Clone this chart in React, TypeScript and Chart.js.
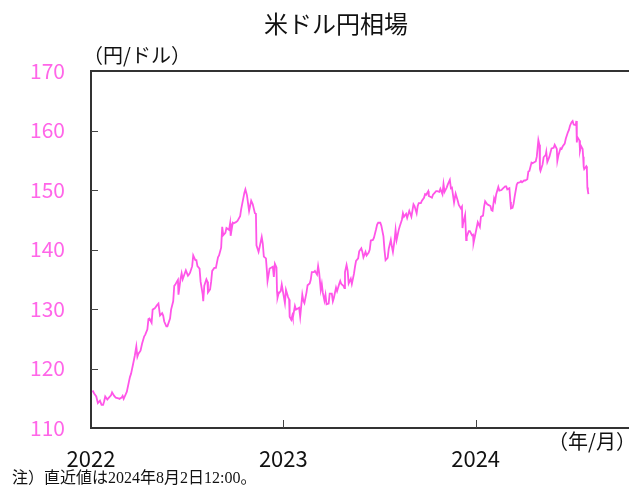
import React, { useEffect, useRef } from "react";
import { Chart, registerables } from "chart.js";

Chart.register(...registerables);

// ---- Text ----
const TITLE = "米ドル円相場";
const Y_UNIT = "（円/ドル）";
const X_UNIT = "（年/月）";
const NOTE = "注）直近値は2024年8月2日12:00。";

// ---- Axis ticks ----
const yTickValues = [110, 120, 130, 140, 150, 160, 170];
const xTickDates = ["2022-01-01", "2023-01-01", "2024-01-01"];
const xTickLabels = ["2022", "2023", "2024"];
const X_START = "2022-01-01";
const X_END = "2024-10-18";

// ---- USD/JPY (yen per dollar) ----
const dates2022 = [
  "01-04", "01-07", "01-11", "01-14", "01-18", "01-21", "01-24", "01-26", "01-28", "02-01",
  "02-04", "02-08", "02-10", "02-14", "02-17", "02-22", "02-24", "02-28", "03-02", "03-04",
  "03-08", "03-10", "03-14", "03-16", "03-18", "03-22", "03-25", "03-28", "03-30", "04-01",
  "04-05", "04-08", "04-12", "04-14", "04-18", "04-20", "04-22", "04-26", "04-28", "05-02",
  "05-06", "05-09", "05-12", "05-16", "05-18", "05-20", "05-24", "05-26", "05-31", "06-02",
  "06-06", "06-08", "06-10", "06-13", "06-15", "06-16", "06-20", "06-22", "06-24", "06-28",
  "06-30", "07-04", "07-06", "07-08", "07-12", "07-14", "07-18", "07-20", "07-22", "07-26",
  "07-28", "08-01", "08-02", "08-04", "08-08", "08-10", "08-11", "08-15", "08-17", "08-19",
  "08-23", "08-26", "08-30", "09-01", "09-05", "09-07", "09-09", "09-13", "09-15", "09-20",
  "09-22", "09-23", "09-27", "09-29", "10-03", "10-06", "10-11", "10-13", "10-17", "10-19",
  "10-21", "10-24", "10-26", "10-28", "11-01", "11-04", "11-08", "11-10", "11-11", "11-15",
  "11-17", "11-21", "11-23", "11-25", "11-29", "12-01", "12-02", "12-06", "12-08", "12-12",
  "12-14", "12-16", "12-19", "12-20", "12-21", "12-23", "12-27", "12-29",
];
const usdjpy2022 = [
  116.3, 115.8, 115.3, 114.2, 114.6, 113.9, 113.9, 114.5, 115.3, 114.8,
  115.1, 115.5, 116.0, 115.4, 115.1, 115.0, 114.9, 115.1, 115.4, 114.9,
  115.7, 116.1, 117.8, 118.6, 119.1, 120.8, 122.1, 123.7, 122.0, 122.5,
  123.0, 124.2, 125.4, 125.7, 126.6, 128.3, 128.4, 127.7, 129.9, 130.1,
  130.6, 130.9, 128.9, 129.3, 128.9, 127.9, 127.1, 127.1, 128.4, 129.9,
  131.3, 133.9, 134.1, 134.6, 134.9, 132.4, 135.1, 136.0, 135.0, 136.0,
  136.5, 135.6, 135.8, 136.1, 137.2, 139.0, 138.2, 138.2, 137.2, 136.8,
  134.6, 132.4, 131.3, 133.9, 135.0, 134.6, 132.8, 133.3, 134.6, 136.4,
  136.9, 136.9, 138.7, 139.0, 140.3, 143.8, 142.4, 142.8, 143.6, 143.3,
  144.4, 142.3, 144.5, 144.4, 144.6, 144.8, 145.6, 146.8, 148.6, 149.5,
  150.1, 149.1, 147.8, 146.5, 148.2, 147.6, 146.1, 146.0, 140.7, 139.6,
  140.4, 142.1, 141.0, 138.8, 138.5, 136.2, 134.7, 136.8, 136.9, 137.1,
  135.4, 137.6, 137.0, 133.0, 131.9, 132.6, 133.0, 134.1,
];

const dates2023 = [
  "01-04", "01-06", "01-10", "01-12", "01-13", "01-16", "01-18", "01-19", "01-23", "01-25",
  "01-27", "01-31", "02-02", "02-06", "02-08", "02-10", "02-14", "02-16", "02-20", "02-22",
  "02-24", "02-28", "03-02", "03-06", "03-08", "03-10", "03-13", "03-15", "03-17", "03-20",
  "03-22", "03-24", "03-28", "03-30", "04-03", "04-05", "04-07", "04-11", "04-13", "04-17",
  "04-19", "04-21", "04-25", "04-27", "04-28", "05-01", "05-03", "05-05", "05-09", "05-11",
  "05-15", "05-17", "05-19", "05-23", "05-25", "05-29", "05-31", "06-02", "06-06", "06-08",
  "06-12", "06-14", "06-16", "06-20", "06-22", "06-26", "06-28", "06-30", "07-04", "07-06",
  "07-10", "07-12", "07-14", "07-18", "07-20", "07-24", "07-26", "07-28", "07-31", "08-02",
  "08-04", "08-08", "08-10", "08-14", "08-16", "08-18", "08-22", "08-24", "08-28", "08-30",
  "09-01", "09-05", "09-07", "09-11", "09-13", "09-15", "09-19", "09-21", "09-25", "09-27",
  "09-29", "10-03", "10-04", "10-06", "10-10", "10-12", "10-16", "10-18", "10-20", "10-24",
  "10-26", "10-30", "11-01", "11-03", "11-07", "11-09", "11-13", "11-15", "11-17", "11-21",
  "11-24", "11-28", "11-30", "12-04", "12-06", "12-07", "12-08", "12-12", "12-14", "12-15",
  "12-19", "12-21", "12-25", "12-27", "12-28",
];
const usdjpy2023 = [
  131.0, 133.2, 132.0, 131.6, 128.7, 128.2, 128.9, 128.5, 130.5, 129.9,
  130.0, 130.2, 128.7, 132.4, 131.4, 131.0, 132.8, 134.0, 134.3, 134.9,
  136.2, 136.2, 136.4, 135.8, 137.2, 136.1, 133.2, 134.2, 132.7, 131.4,
  132.4, 130.8, 130.9, 132.6, 132.6, 131.3, 131.9, 133.6, 133.0, 134.2,
  134.7, 134.2, 133.9, 133.5, 136.2, 137.4, 136.5, 134.3, 135.1, 134.2,
  135.9, 137.1, 138.1, 138.5, 139.7, 140.2, 139.6, 138.7, 139.6, 139.0,
  139.5, 140.0, 141.5, 141.6, 142.0, 143.4, 144.2, 144.5, 144.5, 144.0,
  142.2, 139.9, 138.2, 138.6, 140.1, 141.6, 140.5, 139.6, 141.5, 143.3,
  141.6, 143.3, 143.9, 145.0, 146.1, 145.5, 146.0, 145.3, 146.5, 146.0,
  145.5, 147.6, 147.3, 146.1, 147.3, 147.8, 147.8, 148.2, 148.7, 149.3,
  149.2, 149.8, 149.0, 148.9, 148.7, 149.2, 149.6, 149.8, 149.8, 149.7,
  150.2, 149.3, 151.0, 149.7, 150.4, 150.9, 151.7, 150.3, 150.4, 147.9,
  149.4, 148.2, 147.5, 146.9, 147.2, 143.6, 144.3, 145.8, 141.6, 142.1,
  143.1, 143.1, 142.4, 142.5, 141.1,
];

const dates2024 = [
  "01-03", "01-05", "01-09", "01-11", "01-15", "01-17", "01-19", "01-23", "01-25", "01-29",
  "01-31", "02-02", "02-05", "02-07", "02-09", "02-13", "02-15", "02-19", "02-21", "02-26",
  "02-28", "03-01", "03-05", "03-07", "03-08", "03-11", "03-13", "03-15", "03-19", "03-21",
  "03-25", "03-27", "03-29", "04-02", "04-04", "04-08", "04-10", "04-12", "04-16", "04-18",
  "04-22", "04-24", "04-26", "04-29", "05-01", "05-02", "05-03", "05-07", "05-09", "05-13",
  "05-14", "05-16", "05-20", "05-22", "05-24", "05-28", "05-30", "06-03", "06-04", "06-06",
  "06-10", "06-12", "06-14", "06-18", "06-20", "06-24", "06-26", "06-28", "07-01", "07-03",
  "07-05", "07-09", "07-10", "07-11", "07-12", "07-16", "07-17", "07-19", "07-22", "07-23",
  "07-24", "07-25", "07-29", "07-30", "07-31", "08-01", "08-02",
];
const usdjpy2024 = [
  143.7, 144.6, 143.8, 145.5, 145.7, 147.2, 148.1, 147.6, 147.5, 147.3,
  146.6, 146.5, 148.6, 148.1, 149.3, 150.5, 149.9, 150.0, 150.2, 150.6,
  150.6, 150.1, 150.3, 148.0, 146.9, 147.0, 147.7, 148.9, 150.9, 151.2,
  151.3, 151.5, 151.3, 151.6, 151.6, 151.8, 153.1, 153.2, 154.6, 154.5,
  154.7, 154.8, 155.6, 158.4, 157.6, 153.5, 153.2, 154.3, 155.5, 155.9,
  156.4, 154.7, 155.6, 156.3, 157.0, 157.1, 157.6, 156.9, 154.9, 155.8,
  157.0, 156.9, 157.3, 157.8, 158.6, 159.7, 160.1, 160.8, 161.4, 161.6,
  161.0, 160.9, 161.6, 158.0, 158.9, 158.3, 156.6, 157.4, 156.9, 155.6,
  153.9, 153.5, 154.0, 153.8, 150.4, 149.8, 149.3,
];

// ---- styling ----
const LINE_COLOR = "rgb(255, 85, 232)";
const Y_LABEL_COLOR = "rgb(255, 102, 232)";
const AXIS_COLOR = "#333333";
const TEXT_COLOR = "#111111";
const FONT = "'Noto Sans CJK JP', 'Noto Sans', sans-serif";

const dayOf = (iso: string) =>
  (Date.UTC(+iso.slice(0, 4), +iso.slice(5, 7) - 1, +iso.slice(8, 10)) -
    Date.UTC(2022, 0, 1)) /
  86400000;

function buildPoints() {
  const pts: { x: number; y: number }[] = [];
  const add = (year: string, ds: string[], vs: number[]) => {
    ds.forEach((d, i) => pts.push({ x: dayOf(`${year}-${d}`), y: vs[i] }));
  };
  add("2022", dates2022, usdjpy2022);
  add("2023", dates2023, usdjpy2023);
  add("2024", dates2024, usdjpy2024);
  return pts;
}

const decorPlugin = {
  id: "decor",
  afterDraw(chart: any) {
    const { ctx, chartArea: a, scales } = chart;
    ctx.save();
    // top frame line
    ctx.strokeStyle = AXIS_COLOR;
    ctx.lineWidth = 2;
    ctx.beginPath();
    ctx.moveTo(a.left - 1, a.top);
    ctx.lineTo(a.right, a.top);
    ctx.stroke();
    // inner tick marks
    ctx.lineWidth = 1;
    ctx.strokeStyle = "#444444";
    yTickValues.slice(1, -1).forEach((v) => {
      const y = Math.round(scales.y.getPixelForValue(v)) + 0.5;
      ctx.beginPath();
      ctx.moveTo(a.left, y);
      ctx.lineTo(a.left + 7, y);
      ctx.stroke();
    });
    xTickDates.slice(1).forEach((d) => {
      const x = Math.round(scales.x.getPixelForValue(dayOf(d))) + 0.5;
      ctx.beginPath();
      ctx.moveTo(x, a.bottom);
      ctx.lineTo(x, a.bottom - 8);
      ctx.stroke();
    });
    // texts
    ctx.fillStyle = TEXT_COLOR;
    ctx.textBaseline = "middle";
    ctx.textAlign = "center";
    ctx.font = `24px ${FONT}`;
    ctx.fillText(TITLE, 336, 24);
    ctx.font = `20px ${FONT}`;
    ctx.fillText(Y_UNIT, 137, 55);
    ctx.fillText(X_UNIT, 592, 441);
    ctx.textAlign = "left";
    ctx.font = `16px 'Liberation Serif', 'Noto Sans CJK JP', serif`;
    ctx.fillText(NOTE, 12, 479);
    ctx.restore();
  },
};

export default function App() {
  const ref = useRef<HTMLCanvasElement>(null);
  useEffect(() => {
    if (!ref.current) return;
    const chart = new Chart(ref.current, {
      type: "line",
      data: {
        datasets: [
          {
            data: buildPoints(),
            borderColor: LINE_COLOR,
            borderWidth: 1.8,
            pointRadius: 0,
            tension: 0,
            fill: false,
          },
        ],
      },
      options: {
        animation: false,
        responsive: false,
        devicePixelRatio: 1,
        parsing: false as any,
        layout: { padding: { top: 71, left: 0, right: 0, bottom: 0 } },
        plugins: {
          legend: { display: false },
          title: { display: false },
          tooltip: { enabled: false },
        },
        scales: {
          x: {
            type: "linear",
            min: dayOf(X_START),
            max: dayOf(X_END),
            grid: { display: false, drawTicks: false },
            border: { display: true, color: AXIS_COLOR, width: 2 },
            afterBuildTicks: (scale: any) => {
              scale.ticks = xTickDates.map((d) => ({ value: dayOf(d) }));
            },
            afterFit: (scale: any) => {
              scale.height = 57;
            },
            ticks: {
              autoSkip: false,
              maxRotation: 0,
              padding: 17,
              color: TEXT_COLOR,
              font: { family: FONT, size: 22 },
              callback: (v: any) => {
                const i = xTickDates.findIndex((d) => dayOf(d) === v);
                return i >= 0 ? xTickLabels[i] : "";
              },
            },
          },
          y: {
            type: "linear",
            min: yTickValues[0],
            max: yTickValues[yTickValues.length - 1],
            grid: { display: false, drawTicks: false },
            border: { display: true, color: AXIS_COLOR, width: 2 },
            afterBuildTicks: (scale: any) => {
              scale.ticks = yTickValues.map((v) => ({ value: v }));
            },
            afterFit: (scale: any) => {
              scale.width = 91;
            },
            ticks: {
              padding: 26,
              color: Y_LABEL_COLOR,
              font: { family: FONT, size: 21 },
            },
          },
        },
      },
      plugins: [decorPlugin],
    });
    return () => chart.destroy();
  }, []);
  return (
    <div
      style={{
        position: "fixed",
        left: 0,
        top: 0,
        width: 629,
        height: 485,
        background: "#fff",
        overflow: "hidden",
      }}
    >
      <canvas
        ref={ref}
        width={629}
        height={485}
        style={{ display: "block", width: 629, height: 485 }}
      />
    </div>
  );
}
